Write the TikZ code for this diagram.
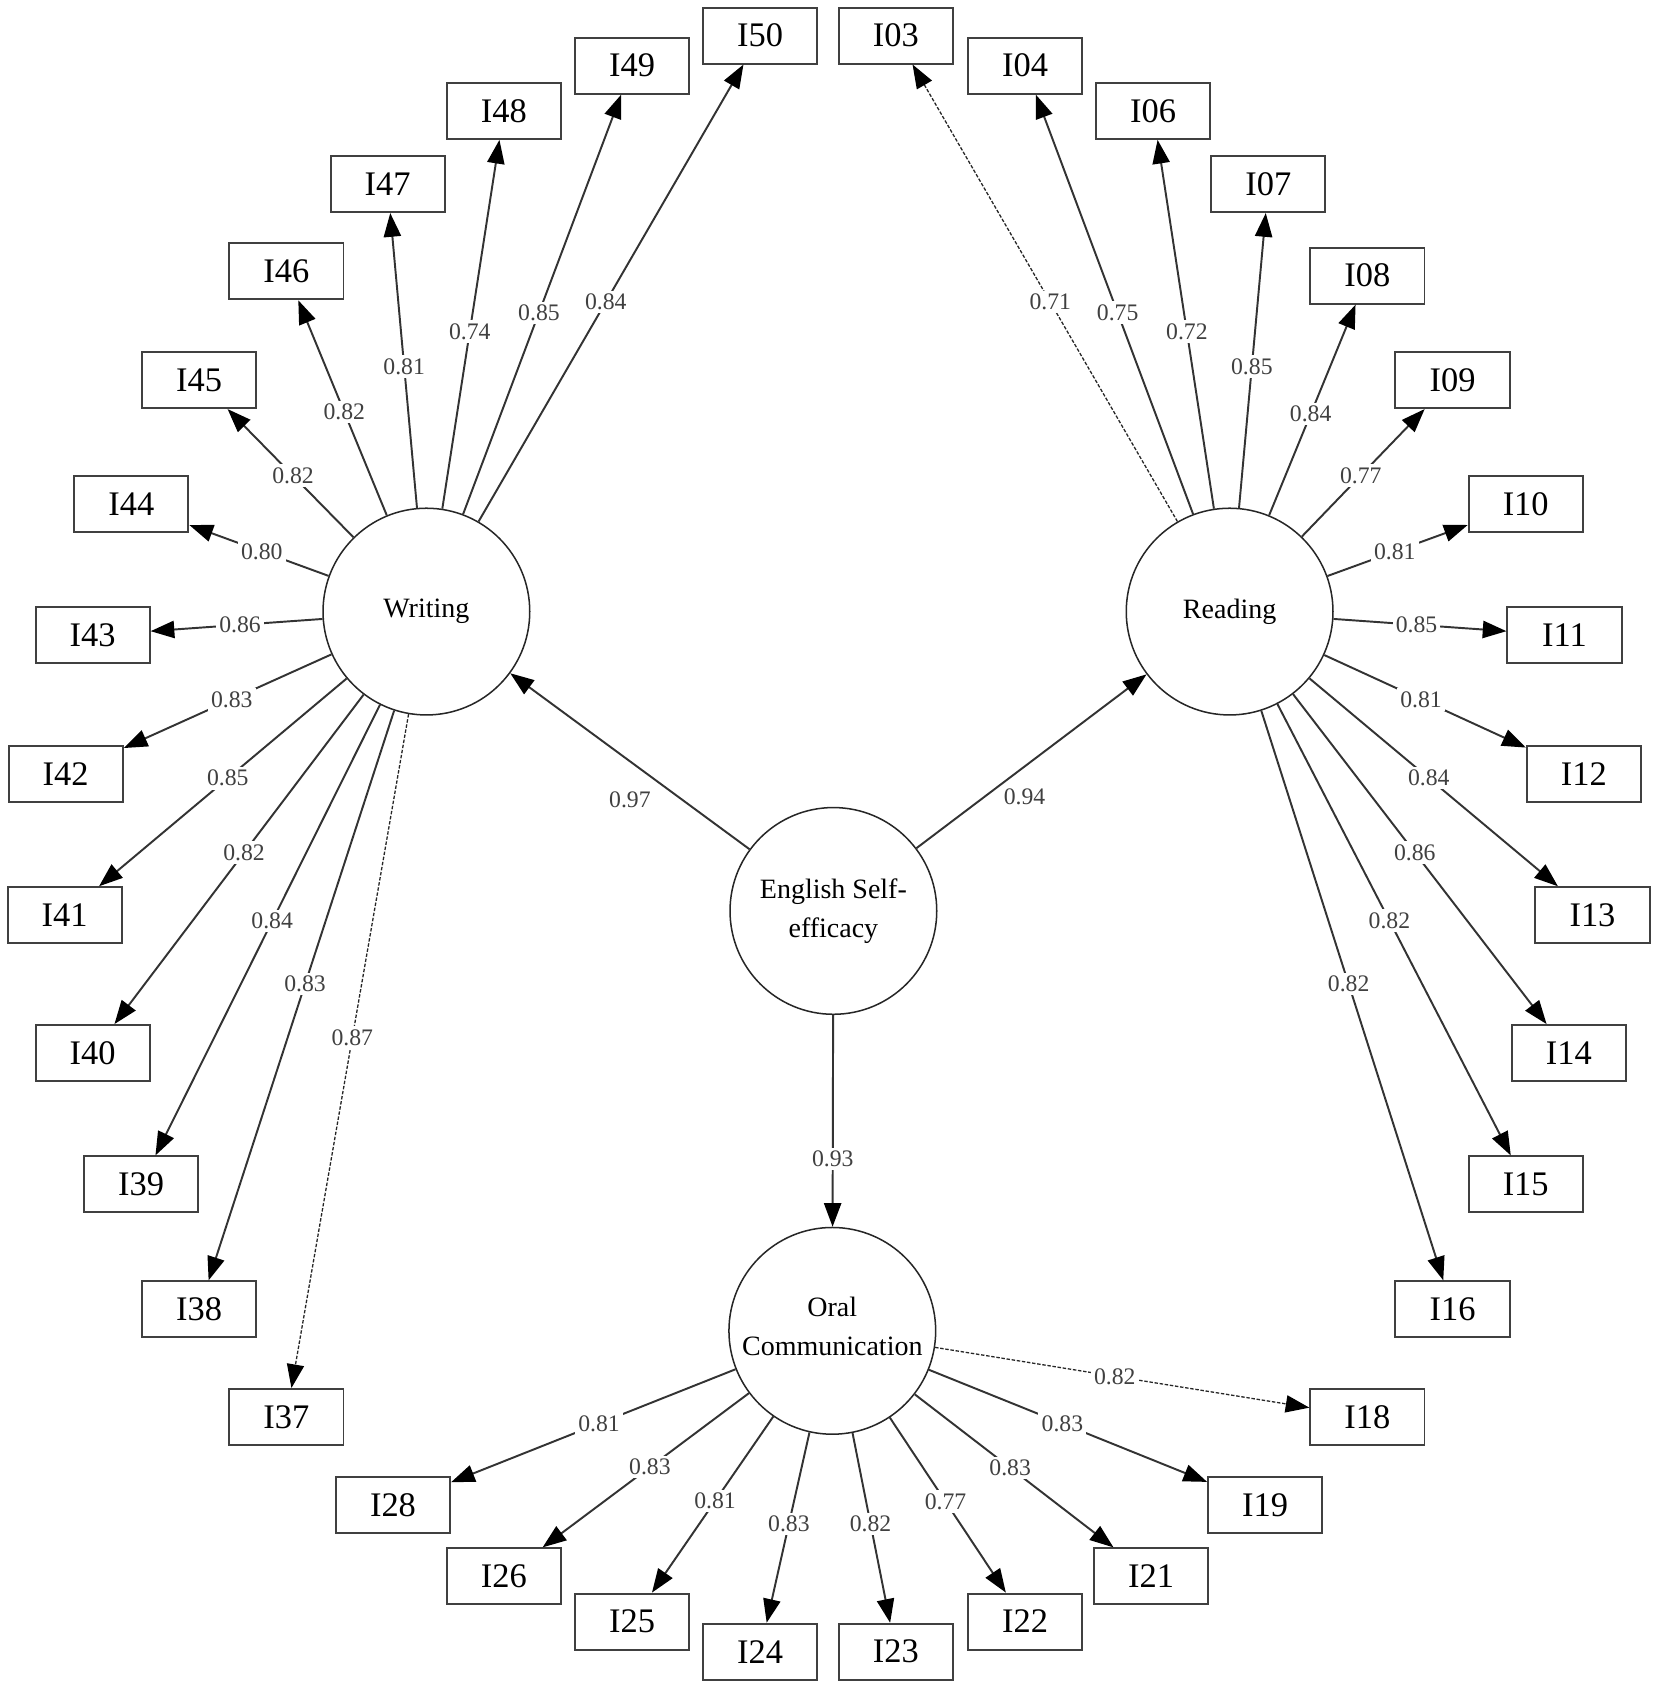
\documentclass[tikz,border=0pt]{standalone}
\usepackage{fontspec}
\setmainfont{Liberation Serif}
\usetikzlibrary{arrows.meta}
\begin{document}
\begin{tikzpicture}[x=0.5pt,y=-0.5pt,
  box/.style={draw=black!75,line width=0.9pt,minimum width=53pt,minimum height=26pt,inner sep=0pt,font=\fontsize{16}{18}\selectfont},
  lat/.style={circle,draw=black!85,line width=0.7pt,minimum size=96pt,inner sep=0pt,align=center,font=\fontsize{13}{18}\selectfont},
  edge/.style={draw=black!80,line width=0.9pt,-{Triangle[length=11pt,width=8pt,fill=black,color=black]}},
  dedge/.style={draw=black!85,line width=0.6pt,dash pattern=on 1.6pt off 0.8pt,-{Triangle[length=11pt,width=8pt,fill=black,color=black]}},
  lbl/.style={fill=white,inner sep=1.5pt,text=black!75,font=\fontsize{11}{12}\selectfont,pos=0.48},
  olbl/.style={inner sep=1.5pt,text=black!75,font=\fontsize{11}{12}\selectfont}]
\useasboundingbox[fill=white] (0,0) rectangle (1536,1564);
% latent variables
\node[lat] (W) at (396,568) {\raisebox{-2.5pt}{Writing}};
\node[lat] (R) at (1142,568) {\raisebox{-2.5pt}{Reading}};
\node[lat] (E) at (774,846) {\raisebox{-1pt}{English Self-}\\\raisebox{-1pt}{efficacy}};
\node[lat] (O) at (773,1236) {\raisebox{4.5pt}{Oral}\\\raisebox{4.5pt}{Communication}};
% indicator boxes
\foreach \n/\x/\y in {I50/706/33,I49/587/61,I48/468/103,I47/360/171,I46/266/252,I45/185/353,I44/122/468,I43/86/590,I42/61/719,I41/60/850,I40/86/978,I39/131/1100,I38/185/1216,I37/266/1316,
  I03/832/33,I04/952/61,I06/1071/103,I07/1178/171,I08/1270/256,I09/1349/353,I10/1417/468,I11/1453/590,I12/1471/719,I13/1479/850,I14/1457/978,I15/1417/1100,I16/1349/1216,
  I18/1270/1316,I19/1175/1398,I21/1069/1464,I22/952/1506,I23/832/1534,I24/706/1534,I25/587/1506,I26/468/1464,I28/365/1398}
  \node[box] (\n) at (\x,\y) {\n};
% structural paths
\draw[edge] (E) -- node[olbl,pos=0.5,yshift=-18pt]{0.97} (W);
\draw[edge] (E) -- node[olbl,pos=0.47,yshift=-14pt]{0.94} (R);
\draw[edge] (E) -- node[lbl,pos=0.68]{0.93} (O);
% loadings
\foreach \s/\t/\v in {W/I50/0.84,W/I49/0.85,W/I48/0.74,W/I47/0.81,W/I46/0.82,W/I45/0.82,W/I44/0.80,W/I43/0.86,W/I42/0.83,W/I41/0.85,W/I40/0.82,W/I39/0.84,W/I38/0.83,
  R/I04/0.75,R/I06/0.72,R/I07/0.85,R/I08/0.84,R/I09/0.77,R/I10/0.81,R/I11/0.85,R/I12/0.81,R/I13/0.84,R/I14/0.86,R/I15/0.82,R/I16/0.82,
  O/I19/0.83,O/I21/0.83,O/I22/0.77,O/I23/0.82,O/I24/0.83,O/I25/0.81,O/I26/0.83,O/I28/0.81}
  \draw[edge] (\s) -- node[lbl]{\v} (\t);
\draw[dedge] (W) -- node[lbl]{0.87} (I37);
\draw[dedge] (R) -- node[lbl]{0.71} (I03);
\draw[dedge] (O) -- node[lbl]{0.82} (I18);
\end{tikzpicture}
\end{document}
